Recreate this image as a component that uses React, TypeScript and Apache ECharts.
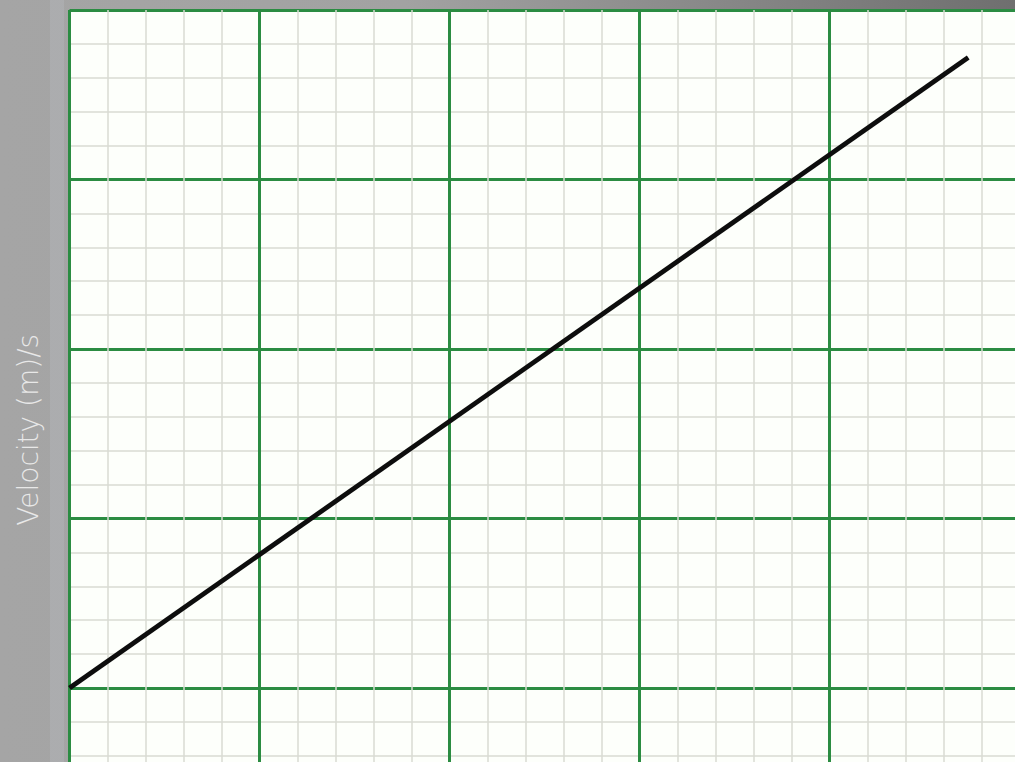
import React, { useEffect, useRef } from "react";
import * as echarts from "echarts";

const xRange = [0, 5];
const yRange = [-1, 4];
const lineX = [0, 4.73];
const lineY = [0, 3.72];
const yAxisTitle = "Velocity (m)/s";

export default function App() {
  const ref = useRef<HTMLDivElement>(null);
  useEffect(() => {
    if (!ref.current) return;
    const chart = echarts.init(ref.current, null, { renderer: "svg" });
    const data = lineX.map((x, i) => [x, lineY[i]]);
    const major = { color: "#2b8c42", width: 3 };
    const minor = { color: "#d8dbd3", width: 1.5 };
    chart.setOption({
      animation: false,
      backgroundColor: "transparent",
      graphic: [
        {
          type: "rect",
          z: -10,
          shape: { x: 50, y: 0, width: 14, height: 870 },
          style: { fill: "rgba(185,188,196,0.35)" },
        },
      ],
      grid: {
        left: 69.5,
        top: 10,
        width: 950,
        height: 847.5,
        show: true,
        backgroundColor: "#fdfffb",
        borderWidth: 0,
      },
      xAxis: {
        type: "value",
        min: xRange[0],
        max: xRange[1],
        interval: 1,
        axisLine: { show: false },
        axisTick: { show: false },
        axisLabel: { show: false },
        splitLine: { show: true, lineStyle: major },
        minorTick: { show: false, splitNumber: 5 },
        minorSplitLine: { show: true, lineStyle: minor },
      },
      yAxis: {
        type: "value",
        min: yRange[0],
        max: yRange[1],
        interval: 1,
        axisLine: { show: false },
        axisTick: { show: false },
        axisLabel: { show: false },
        splitLine: { show: true, lineStyle: major },
        minorTick: { show: false, splitNumber: 5 },
        minorSplitLine: { show: true, lineStyle: minor },
        name: yAxisTitle,
        nameLocation: "middle",
        nameRotate: 90,
        nameGap: 27,
        nameTextStyle: {
          color: "#e8e8e8",
          fontFamily: "DejaVu Sans",
          fontSize: 28,
          fontWeight: 200,
          padding: [0, 0, 0, 8],
        },
      },
      series: [
        {
          type: "line",
          data,
          symbol: "none",
          lineStyle: { color: "#0d0d0d", width: 4.8 },
          z: 5,
        },
      ],
    });
    return () => chart.dispose();
  }, []);
  return (
    <div
      style={{
        position: "fixed",
        left: 0,
        top: 0,
        width: 1015,
        height: 762,
        overflow: "hidden",
        background:
          "linear-gradient(to right, #a5a5a5 0%, #a2a2a2 40%, #6f6f6f 100%)",
      }}
    >
      <div ref={ref} style={{ width: 1030, height: 870 }} />
    </div>
  );
}
